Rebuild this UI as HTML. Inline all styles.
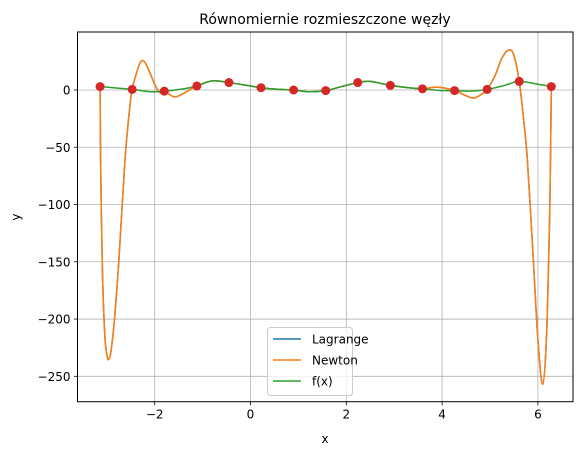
<!DOCTYPE html>
<html><head><meta charset="utf-8"><style>
body{margin:0;background:#fff;}
svg{font-family:"DejaVu Sans","Liberation Sans",sans-serif;}
</style></head><body>
<svg id="chart" width="583" height="455" viewBox="0 0 583 455" xmlns="http://www.w3.org/2000/svg">
<rect width="583" height="455" fill="#fff"/>
<text x="325" y="24" font-size="14" text-anchor="middle">Równomiernie rozmieszczone węzły</text>
<g id="grid"></g>
<g id="series"></g>
<rect x="77.5" y="32" width="495.5" height="369.7" fill="none" stroke="#000" stroke-width="1"/>
<g id="ticks"></g>
<text x="325" y="443" font-size="12" text-anchor="middle">x</text>
<text x="20" y="217" font-size="12" text-anchor="middle" transform="rotate(-90 20 217)">y</text>
<g>
<rect x="267.5" y="327.5" width="85" height="68" rx="3" fill="#fff" fill-opacity="0.8" stroke="#ccc"/>
<line x1="273" y1="339" x2="301" y2="339" stroke="#1f77b4" stroke-width="1.5"/>
<text x="312" y="343.5" font-size="12">Lagrange</text>
<line x1="273" y1="360" x2="301" y2="360" stroke="#ff7f0e" stroke-width="1.5"/>
<text x="312" y="364.5" font-size="12">Newton</text>
<line x1="273" y1="381" x2="301" y2="381" stroke="#2ca02c" stroke-width="1.5"/>
<text x="312" y="385.5" font-size="12">f(x)</text>
</g>
</svg>
<script>
const xTicks = [-2, 0, 2, 4, 6];
const yTicks = [0, -50, -100, -150, -200, -250];
const nodeX = [-3.14, -2.47, -1.80, -1.12, -0.45, 0.22, 0.90, 1.57, 2.24, 2.92, 3.59, 4.26, 4.94, 5.61, 6.28];
const nodeY = [3, 0.5, -1, 3.5, 6.5, 2, 0, -0.5, 6.5, 4, 1, -0.5, 0.5, 7.5, 3];
const fX = [-3.14, -2.47, -2.1, -1.8, -1.4, -1.12, -0.8, -0.45, 0, 0.22, 0.6, 0.9, 1.2, 1.57, 1.9, 2.24, 2.5, 2.92, 3.3, 3.59, 4.0, 4.26, 4.6, 4.94, 5.3, 5.61, 6.0, 6.28];
const fY = [3, 0.5, -1.5, -1, 1, 3.5, 8, 6.5, 3.5, 2, 0.5, 0, -1.5, -0.5, 3, 6.5, 7.5, 4, 2, 1, -0.5, -0.5, -1, 0.5, 4, 7.5, 5, 3];
const polyX = [-3.14, -3.13, -3.09, -3.04, -2.99, -2.96, -2.92, -2.85, -2.75, -2.62, -2.52, -2.47, -2.40, -2.30, -2.22, -2.12, -2.00, -1.90, -1.80, -1.59, -1.40, -1.12, -0.8, -0.45, 0, 0.22, 0.6, 0.9, 1.2, 1.57, 1.9, 2.24, 2.5, 2.92, 3.3, 3.59, 3.9, 4.26, 4.5, 4.67, 4.85, 4.94, 5.1, 5.25, 5.4, 5.5, 5.61, 5.7, 5.78, 5.9, 6.0, 6.1, 6.18, 6.24, 6.26, 6.28];
const polyY = [3, -60, -160, -215, -233, -235, -230, -205, -150, -61, -15, 0.5, 12, 24, 25, 17, 5, -2, -1, -6, -3, 3.5, 8, 6.5, 3.5, 2, 0.5, 0, -1.5, -0.5, 3, 6.5, 7.5, 4, 2, 1, 2.5, -0.5, -5, -7, -3, 0.5, 12, 28, 35, 30, 7.5, -25, -61, -145, -218, -257, -215, -120, -70, 3];

const NS = "http://www.w3.org/2000/svg";
const L = 77.5, R = 573, T = 32, B = 401.7;
const sx = v => 250.5 + v * 47.9;
const sy = v => 90 - v * 1.1452;
function mk(tag, attrs, parent){ const e=document.createElementNS(NS,tag); for(const k in attrs) e.setAttribute(k,attrs[k]); parent.appendChild(e); return e; }
const grid=document.getElementById('grid'), ticks=document.getElementById('ticks'), series=document.getElementById('series');
xTicks.forEach(t=>{
  const x=sx(t);
  const g=mk('line',{x1:x,x2:x,y1:T,y2:B,stroke:'#b0b0b0','stroke-width':0.8},grid);
  
  
  const tk=mk('line',{x1:x,x2:x,y1:B,y2:B+3.5,stroke:'#000','stroke-width':0.8},ticks);
  
  
  const tx=mk('text',{x:x,y:B+17,'font-size':12,'text-anchor':'middle'},ticks);
  tx.textContent=t<0?'\u2212'+(-t):String(t);
  
  
});
yTicks.forEach(t=>{
  const y=sy(t);
  const g=mk('line',{x1:L,x2:R,y1:y,y2:y,stroke:'#b0b0b0','stroke-width':0.8},grid);
  
  
  const tk=mk('line',{x1:L-3.5,x2:L,y1:y,y2:y,stroke:'#000','stroke-width':0.8},ticks);
  
  
  const tx=mk('text',{x:L-7,y:y+4.5,'font-size':12,'text-anchor':'end'},ticks);
  tx.textContent=t<0?'\u2212'+(-t):String(t);
  
  
});
function smooth(xs, ys){
  const p=xs.map((x,i)=>[sx(x),sy(ys[i])]);
  let d='M'+p[0][0]+','+p[0][1];
  for(let i=0;i<p.length-1;i++){
    const p0=p[Math.max(0,i-1)],p1=p[i],p2=p[i+1],p3=p[Math.min(p.length-1,i+2)];
    const c1=[p1[0]+(p2[0]-p0[0])/6,p1[1]+(p2[1]-p0[1])/6];
    const c2=[p2[0]-(p3[0]-p1[0])/6,p2[1]-(p3[1]-p1[1])/6];
    d+=` C${c1[0]},${c1[1]} ${c2[0]},${c2[1]} ${p2[0]},${p2[1]}`;
  }
  return d;
}
const lag=mk('path',{d:smooth(polyX,polyY),fill:'none',stroke:'#1f77b4','stroke-width':1.5},series);


const nw=mk('path',{d:smooth(polyX,polyY),fill:'none',stroke:'#ff7f0e','stroke-width':1.5},series);


const fl=mk('path',{d:smooth(fX,fY),fill:'none',stroke:'#2ca02c','stroke-width':1.5},series);


nodeX.forEach((x,i)=>{
  const c=mk('circle',{cx:sx(x),cy:sy(nodeY[i]),r:4.5,fill:'#d62728'},series);
  
  
});
</script>
</body></html>
